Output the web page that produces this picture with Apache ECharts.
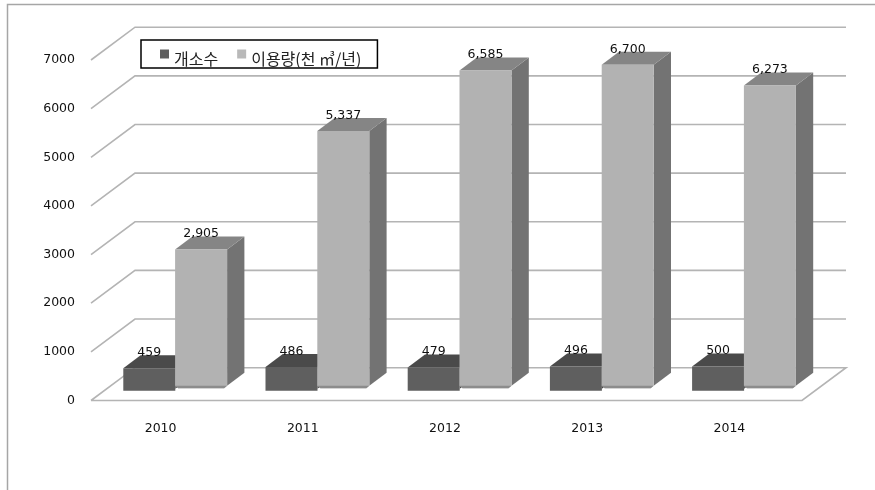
<!DOCTYPE html>
<html>
<head>
<meta charset="utf-8">
<script src="https://cdn.jsdelivr.net/npm/echarts@6/dist/echarts.min.js"></script>
<style>
html, body { margin: 0; padding: 0; background: #fff; }
#main { width: 875px; height: 490px; }
</style>
</head>
<body>
<div id="main"></div>
<script>
const years = ['2010', '2011', '2012', '2013', '2014'];
const siteCount = [459, 486, 479, 496, 500];
const usage = [2905, 5337, 6585, 6700, 6273];
const wallTicks = [0, 1000, 2000, 3000, 4000, 5000, 6000, 7000];

const FONT = '"Noto Sans CJK KR", "DejaVu Sans", sans-serif';
const WALL_DX = 44, WALL_DY = -32.8;
const BAR_W = 52, BAR_DX = 17.3, BAR_DY = -13, BASE_DY = -9.8;

// one fake 3d box: side, top, front and the number above it
function box(api, xOff, color, sideColor, topColor, rounded) {
    const i = api.value(0), v = api.value(1);
    const base = api.coord([i, 0]);
    const top = api.coord([i, v]);
    const x0 = base[0] + xOff, x1 = x0 + BAR_W;
    const y0 = base[1] + BASE_DY, y1 = top[1] + BASE_DY;
    const cut = rounded ? 3 : 0;
    const front = rounded
        ? [[x0, y1], [x1, y1], [x1, y0 - 5], [x1 - 3, y0 - 2.5], [x0 + 3, y0 - 2.5], [x0, y0 - 5]]
        : [[x0, y1], [x1, y1], [x1, y0], [x0, y0]];
    const children = [
        {type: 'polygon', shape: {points: [[x1, y1], [x1 + BAR_DX, y1 + BAR_DY], [x1 + BAR_DX, y0 + BAR_DY - cut - 2], [x1, y0 - cut - 2]]},
            style: {fill: sideColor}},
        {type: 'polygon', shape: {points: [[x0, y1], [x0 + BAR_DX, y1 + BAR_DY], [x1 + BAR_DX, y1 + BAR_DY], [x1, y1]]},
            style: {fill: topColor}},
        {type: 'polygon', shape: {points: front}, style: {fill: color}}
    ];
    if (rounded) {
        children.push({type: 'polygon', shape: {points: [[x0, y0 - 5], [x1, y0 - 5], [x1 - 3, y0 - 2.5], [x0 + 3, y0 - 2.5]]},
            style: {fill: '#8c8c8c'}});
    }
    children.push({type: 'text', style: {
        text: v.toLocaleString('en-US'), x: x0 + BAR_W / 2, y: y1 - 15.5,
        align: 'center', verticalAlign: 'middle', fill: '#111',
        font: '12.5px "DejaVu Sans", sans-serif'
    }});
    return {type: 'group', children: children};
}

const chart = echarts.init(document.getElementById('main'));
chart.setOption({
    animation: false,
    backgroundColor: '#fff',
    grid: {left: 91, right: 73, top: 60, bottom: 89.5},
    legend: {
        left: 141, top: 40,
        padding: [9.5, 16, 1.5, 19],
        backgroundColor: '#fff', borderColor: '#000', borderWidth: 1.5,
        itemWidth: 9, itemHeight: 9, itemGap: 19,
        icon: 'rect',
        formatter: '{t|{name}}',
        textStyle: {
            rich: {t: {fontFamily: FONT, fontSize: 16, color: '#222', padding: [9, 0, 0, 0]}}
        },
        data: ['개소수', '이용량(천 ㎥/년)']
    },
    xAxis: {
        type: 'category', data: years,
        axisLine: {show: false}, axisTick: {show: false},
        axisLabel: {margin: 22, padding: [0, 3, 0, 0], fontFamily: 'DejaVu Sans', fontSize: 12.5, color: '#111'}
    },
    yAxis: {
        type: 'value', min: 0, max: 7000, interval: 1000,
        axisLine: {show: false}, axisTick: {show: false}, splitLine: {show: false},
        axisLabel: {
            margin: 16, padding: [5, 0, 0, 0], fontFamily: 'DejaVu Sans', fontSize: 12.5, color: '#111',
            formatter: v => String(v)
        }
    },
    series: [
        {
            // walls and floor lines
            type: 'custom', silent: true, z: 1,
            data: wallTicks.map(t => [t]),
            encode: {y: 0},
            renderItem: function (params, api) {
                const t = api.value(0);
                const left = api.coord([0, t]);
                const rect = params.coordSys;
                const x0 = rect.x, y = left[1];
                const x1 = rect.x + rect.width;
                const pts = t === 0
                    ? [[x0, y], [x0 + WALL_DX, y + WALL_DY], [x1 + WALL_DX, y + WALL_DY], [x1, y], [x0, y]]
                    : [[x0, y], [x0 + WALL_DX, y + WALL_DY], [x1 + WALL_DX, y + WALL_DY]];
                return {type: 'polyline', shape: {points: pts}, style: {stroke: '#b4b4b4', lineWidth: 1.6, fill: null}};
            }
        },
        {
            name: '개소수', type: 'custom', z: 2,
            itemStyle: {color: '#5f5f5f'},
            data: siteCount.map((v, i) => [i, v]),
            renderItem: function (params, api) {
                return box(api, -38.8, '#5f5f5f', '#4a4a4a', '#4a4a4a', false);
            }
        },
        {
            name: '이용량(천 ㎥/년)', type: 'custom', z: 3,
            itemStyle: {color: '#b9b9b9'},
            data: usage.map((v, i) => [i, v]),
            renderItem: function (params, api) {
                return box(api, 13, '#b2b2b2', '#737373', '#858585', true);
            }
        }
    ],
    graphic: [{
        // outer frame, open on the right and at the bottom
        type: 'polyline', silent: true,
        shape: {points: [[7.5, 490], [7.5, 4.5], [875, 4.5]]},
        style: {stroke: '#a6a6a6', lineWidth: 1.5, fill: null}
    }]
});
</script>
</body>
</html>
